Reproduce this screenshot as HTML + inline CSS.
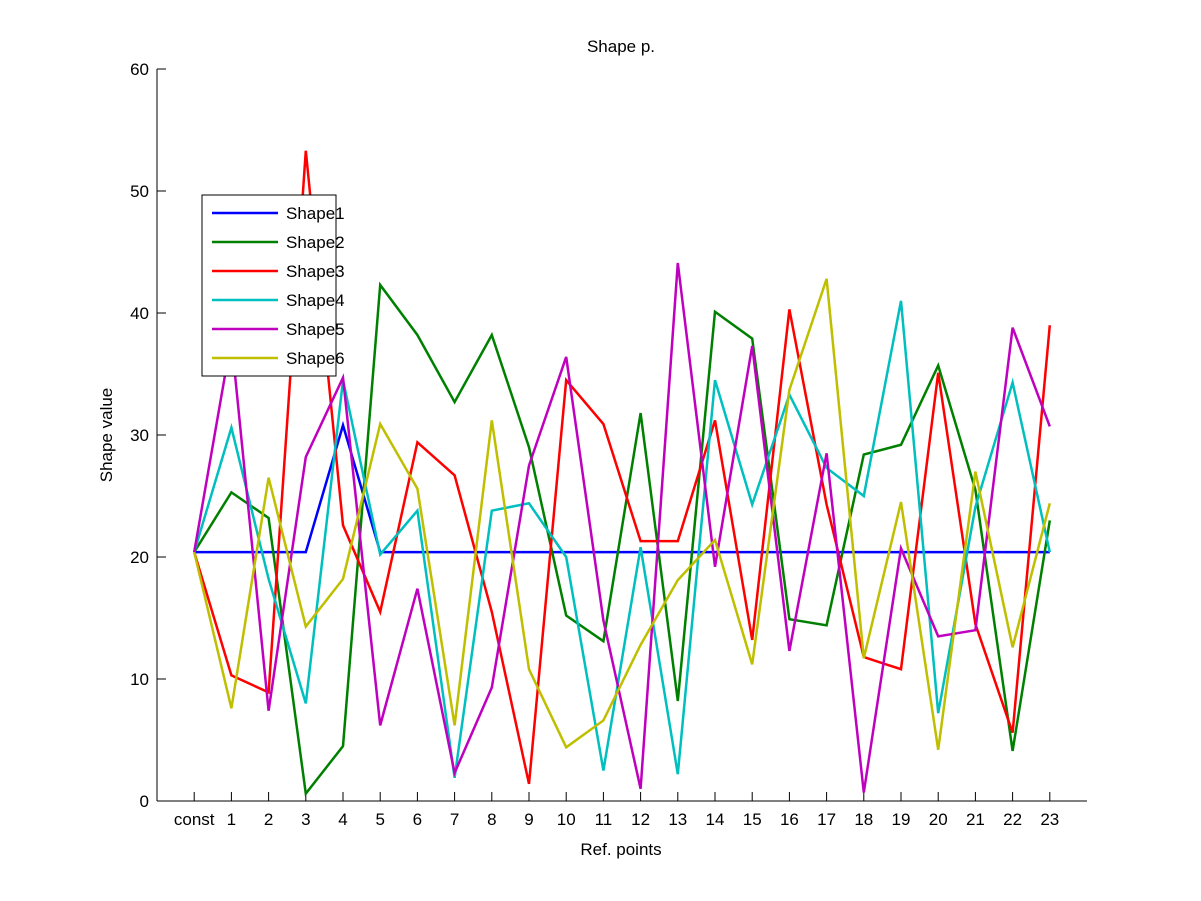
<!DOCTYPE html>
<html><head><meta charset="utf-8"><style>
body{margin:0;background:#fff;}
svg{display:block;font-family:"Liberation Sans",sans-serif;}
</style></head><body>
<svg id="chart" width="1201" height="901" xmlns="http://www.w3.org/2000/svg">
<rect width="1201" height="901" fill="#fff"/>
<g id="axes"></g><g id="series"></g><g id="legend"></g>
</svg>
<script>
const categories=["const","1","2","3","4","5","6","7","8","9","10","11","12","13","14","15","16","17","18","19","20","21","22","23"];
const yTicks=[0,10,20,30,40,50,60];
const seriesNames=["Shape1","Shape2","Shape3","Shape4","Shape5","Shape6"];
const seriesColors=["#0000ff","#008000","#ff0000","#00bfbf","#bf00bf","#bfbf00"];
const shape1=[20.4,20.4,20.4,20.4,30.8,20.4,20.4,20.4,20.4,20.4,20.4,20.4,20.4,20.4,20.4,20.4,20.4,20.4,20.4,20.4,20.4,20.4,20.4,20.4];
const shape2=[20.4,25.3,23.2,0.6,4.5,42.3,38.2,32.7,38.2,29,15.2,13.1,31.8,8.2,40.1,37.9,14.9,14.4,28.4,29.2,35.7,25.5,4.1,23];
const shape3=[20.4,10.3,8.9,53.3,22.6,15.5,29.4,26.7,15.5,1.4,34.5,30.9,21.3,21.3,31.2,13.2,40.3,24.3,11.8,10.8,35.1,14.5,5.6,39];
const shape4=[20.4,30.6,18.2,8,34.5,20.2,23.8,1.9,23.8,24.4,20,2.5,20.8,2.2,34.5,24.3,33.3,27.3,25,41,7.2,24.1,34.3,20.4];
const shape5=[20.4,37.9,7.4,28.2,34.7,6.2,17.4,2.3,9.3,27.5,36.4,14.8,1,44.1,19.2,37.3,12.3,28.5,0.7,20.7,13.5,14,38.8,30.7];
const shape6=[20.4,7.6,26.5,14.3,18.2,30.9,25.6,6.2,31.2,10.8,4.4,6.6,12.8,18.1,21.4,11.2,33.7,42.8,11.7,24.5,4.2,27,12.6,24.4];
const allSeries=[shape1,shape2,shape3,shape4,shape5,shape6];

const NS="http://www.w3.org/2000/svg";
const X0=157,X1=1087,Y0=801,Y1=69;
function xs(i){return X0+(i+1)*(X1-X0)/(categories.length+1);}
function ys(v){return Y0-(v-0)*(Y0-Y1)/60;}
function mk(tag,attrs,parent,text){const e=document.createElementNS(NS,tag);for(const k in attrs)e.setAttribute(k,attrs[k]);if(text!==undefined)e.textContent=text;parent.appendChild(e);return e;}
const axes=document.getElementById('axes');
let e;
e=mk('line',{x1:X0,y1:Y0,x2:X1,y2:Y0,stroke:'#000','stroke-width':1},axes);


e=mk('line',{x1:X0,y1:Y0,x2:X0,y2:Y1,stroke:'#000','stroke-width':1},axes);


yTicks.forEach(t=>{
  mk('line',{x1:X0,y1:ys(t),x2:X0+9,y2:ys(t),stroke:'#000'},axes);
  e=mk('text',{x:X0-8,y:ys(t)+6,'text-anchor':'end','font-size':17},axes,String(t));
  
  
});
categories.forEach((c,i)=>{
  mk('line',{x1:xs(i),y1:Y0,x2:xs(i),y2:Y0-9,stroke:'#000'},axes);
  e=mk('text',{x:xs(i),y:Y0+24,'text-anchor':'middle','font-size':17},axes,c);
  
  
});
e=mk('text',{x:621,y:52,'text-anchor':'middle','font-size':17},axes,'Shape p.');


e=mk('text',{x:621,y:855,'text-anchor':'middle','font-size':17},axes,'Ref. points');


e=mk('text',{x:0,y:0,'text-anchor':'middle','font-size':17,transform:'translate(112,435) rotate(-90)'},axes,'Shape value');


const sg=document.getElementById('series');
allSeries.forEach((s,k)=>{
  const pts=s.map((v,i)=>xs(i)+','+ys(v)).join(' ');
  e=mk('polyline',{points:pts,fill:'none',stroke:seriesColors[k],'stroke-width':2.5,'stroke-linejoin':'miter'},sg);
  
  
});
const lg=document.getElementById('legend');
e=mk('rect',{x:202,y:195,width:134,height:181,fill:'#fff',stroke:'#000'},lg);


seriesNames.forEach((n,k)=>{
  const y=213+k*29;
  const g=mk('g',{},lg);
  
  
  mk('line',{x1:212,y1:y,x2:278,y2:y,stroke:seriesColors[k],'stroke-width':2.5},g);
  mk('text',{x:286,y:y+6,'font-size':17},g,n);
});
</script>
</body></html>
